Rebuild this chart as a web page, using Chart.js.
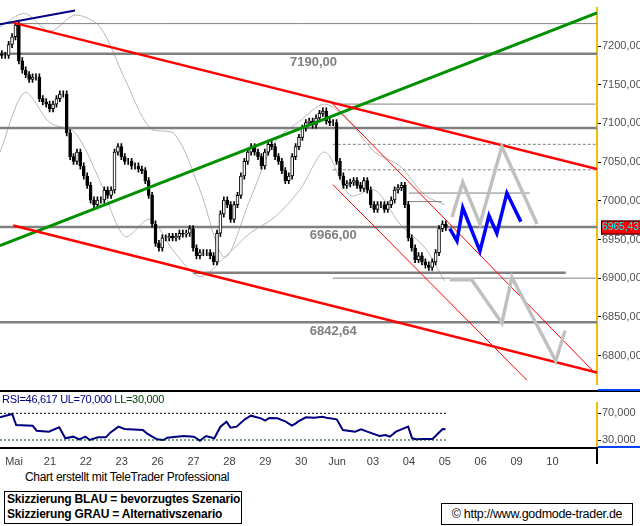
<!DOCTYPE html>
<html><head><meta charset="utf-8">
<script src="https://cdn.jsdelivr.net/npm/chart.js@4.4.0/dist/chart.umd.min.js"></script>
<style>
body{margin:0;background:#fff;width:640px;height:526px;overflow:hidden;position:relative;font-family:"Liberation Sans",Arial,sans-serif}
canvas{position:absolute;left:0}
#c1{top:0}#c2{top:392px}
.t{position:absolute;white-space:nowrap}
</style></head><body>
<canvas id="c1" width="640" height="392"></canvas>
<canvas id="c2" width="640" height="78"></canvas>
<div class="t" style="left:2px;top:393px;font-size:11px;color:#000080;letter-spacing:-0.3px">RSI=46,617 UL=70,000 <span style="color:#004000">LL=30,000</span></div>
<div class="t" style="left:25px;top:470px;font-size:12px;color:#000;letter-spacing:-0.3px">Chart erstellt mit TeleTrader Professional</div>
<div class="t" style="left:4px;top:491px;width:234px;height:31px;border:1px solid #000;font-size:12px;font-weight:bold;line-height:15px;padding-left:2px;letter-spacing:-0.2px">Skizzierung BLAU = bevorzugtes Szenario<br>Skizzierung GRAU = Alternativszenario</div>
<div class="t" style="left:441px;top:503px;width:190px;height:20px;border:1px solid #000;font-size:12.5px;line-height:20px;text-align:center;letter-spacing:-0.3px">© http://www.godmode-trader.de</div>
<script>
const dayLabels=["Mai","21","22","23","26","27","28","29","30","Jun","03","04","05","06","09","10"];
const closes=[7188,7188,7202,7212,7227,7181,7169,7163,7157,7160,7160,7132,7128,7125,7119,7125,7132,7138,7138,7088,7057,7051,7063,7045,7032,7020,7001,6995,7001,7001,7014,7007,7014,7063,7070,7057,7051,7051,7045,7045,7041,7039,7026,7007,6970,6945,6939,6952,6952,6954,6952,6954,6958,6957,6958,6964,6939,6929,6933,6933,6933,6929,6921,6958,6983,7001,6995,6976,6995,7007,7032,7051,7063,7070,7063,7057,7045,7063,7073,7070,7057,7051,7039,7026,7032,7057,7070,7082,7094,7101,7103,7098,7107,7113,7116,7103,7101,7101,7051,7032,7020,7022,7024,7026,7020,7016,7026,7014,6995,6989,6995,6995,6989,6995,7001,7014,7017,7020,6995,6952,6939,6924,6929,6921,6917,6914,6921,6933,6964,6970,6965.43];
const firstOpen=7190, tStart=-0.34, tEnd=12.03;
const bandT=[-0.39,0.30,1.00,1.70,2.39,3.09,3.79,4.48,5.18,5.87,6.57,7.27,7.96,8.66,9.36,10.05,10.75,11.45,12.0];
const bandUpper=[7225,7242,7219,7240,7225,7157,7094,7086,7014,6927,7001,7076,7103,7125,7101,7063,7045,7007,6995];
const bandLower=[7063,7140,7101,7088,7026,6954,6976,6933,6902,6927,6958,6979,7014,7063,7007,7014,6970,6939,6896];
const trendNavy=[[-0.39,7228],[1.70,7246]];
const trendRedUpper=[[0.0,7230],[16.24,7041]];
const trendRedLower=[[-0.02,6968],[16.24,6778]];
const trendGreen=[[-0.39,6942],[16.24,7243]];
const channelUpper=[[8.88,7125],[16.13,6780]];
const channelLower=[[8.88,7021],[14.29,6768]];
// level, from, to
const levelsThick=[[7190,-0.4,16.3],[7094,-0.4,16.3],[6966,-0.4,16.3],[6843,-0.4,16.3],[6907,5.0,15.37]];
const levelsThin=[[7229,-0.4,16.3],[7125,8.88,16.2],[7010,11.0,14.37],[6999,10.97,11.92],[6900,8.88,16.2]];
const levelsDashed=[[7073,8.88,16.2],[7040,8.88,16.2]];
const levelTexts=[["7190,00",7.69,7179],["6966,00",8.24,6955],["6842,64",8.24,6831]];
const blueScenario=[[12.14,6964],[12.34,6948],[12.50,6991],[12.98,6935],[13.23,6981],[13.45,6958],[13.73,7010],[14.12,6973]];
const grayScenario1=[[12.20,6979],[12.50,7024],[12.98,6970],[13.59,7070],[14.57,6970]];
const grayScenario2=[[12.14,6898],[12.75,6898],[13.59,6842],[13.87,6901],[15.09,6793],[15.35,6832]];
const lastPrice="6965,43";
const yTicks=[6800,6850,6900,6950,7000,7050,7100,7150,7200];
const rsiT=[-0.39,-0.05,0.06,0.52,0.63,0.97,1.26,1.43,1.65,1.82,1.99,2.11,2.34,2.56,2.68,2.91,3.08,3.59,3.70,3.98,4.16,4.27,4.72,5.01,5.18,5.35,5.58,5.75,5.92,6.03,6.20,6.43,6.60,6.71,6.88,7.00,7.11,7.34,7.57,7.74,7.85,7.91,8.13,8.36,8.59,8.70,8.99,9.16,9.50,9.67,9.84,10.18,10.35,10.47,10.64,10.98,11.09,11.20,11.43,11.66,11.77,11.94,12.02];
const rsiV=[64,69,52.5,51.5,44,42.5,49,32.5,35,31,35,30,34,34,41,50,46.5,45,40,31,30,33.5,36,35,29,36,32.5,50,57.5,48.5,50,61,66.5,65,62.5,59,63,62.5,57.5,51.5,55,57.5,64,63.5,65,63.5,61,45,42.5,46,42.5,36,37.5,35,42.5,50,32.5,31,31.5,31.5,37.5,46.5,46];
const rsiLevels=[70,30];

const XMIN=-0.39, XMAX=16.24;
const pts=a=>a.map(p=>({x:p[0],y:p[1]}));
const n=closes.length, step=(tEnd-tStart)/(n-1);
const bodies=[], wicks=[], bodyColors=[];
closes.forEach((c,i)=>{const o=i?closes[i-1]:firstOpen;const t=tStart+i*step;
  bodies.push({x:t,y:[o,c]});wicks.push({x:t,y:[Math.min(o,c)-4,Math.max(o,c)+4]});
  bodyColors.push(c>=o?'#ffffff':'#000000');});
const lineDs=(data,color,w,extra)=>Object.assign({type:'line',data,borderColor:color,borderWidth:w,pointRadius:0,fill:false,tension:0},extra||{});
const ds=[];
ds.push(lineDs(bandT.map((t,i)=>({x:t,y:bandUpper[i]})),'#b8b8b8',1,{tension:0.3,order:20}));
ds.push(lineDs(bandT.map((t,i)=>({x:t,y:bandLower[i]})),'#b8b8b8',1,{tension:0.3,order:20}));
levelsThick.forEach(l=>ds.push(lineDs([{x:l[1],y:l[0]},{x:l[2],y:l[0]}],'#808080',2.5,{order:15})));
levelsThin.forEach(l=>ds.push(lineDs([{x:l[1],y:l[0]},{x:l[2],y:l[0]}],'#808080',1,{order:15})));
levelsDashed.forEach(l=>ds.push(lineDs([{x:l[1],y:l[0]},{x:l[2],y:l[0]}],'#808080',1,{order:15,borderDash:[3,2]})));
ds.push({type:'bar',data:wicks,backgroundColor:'#000',barThickness:1,grouped:false,order:11});
ds.push({type:'bar',data:bodies,backgroundColor:bodyColors,borderColor:'#000',borderWidth:1,borderSkipped:false,barThickness:3,grouped:false,order:10});
ds.push(lineDs(pts(channelUpper),'#ff0000',1,{order:5}));
ds.push(lineDs(pts(channelLower),'#ff0000',1,{order:5}));
ds.push(lineDs(pts(trendRedUpper),'#ff0000',2.5,{order:4}));
ds.push(lineDs(pts(trendRedLower),'#ff0000',2.5,{order:4}));
ds.push(lineDs(pts(trendGreen),'#009000',3,{order:4}));
ds.push(lineDs(pts(trendNavy),'#000080',2,{order:4}));
ds.push(lineDs(pts(grayScenario1),'#c0c0c0',3.5,{order:3}));
ds.push(lineDs(pts(grayScenario2),'#c0c0c0',3.5,{order:3}));
ds.push(lineDs(pts(blueScenario),'#0000ff',3.5,{order:2}));

const font='"Liberation Sans", Arial, sans-serif';
const overlay={id:'ov',afterDatasetsDraw(ch){const c=ch.ctx,x=ch.scales.x,y=ch.scales.y;
  c.save();c.font='bold 13px '+font;c.fillStyle='#808080';c.textBaseline='middle';
  levelTexts.forEach(t=>c.fillText(t[0],x.getPixelForValue(t[1]),y.getPixelForValue(t[2])));
  const py=y.getPixelForValue(6965.43);c.fillStyle='#ff0000';c.fillRect(601,py-7,39,14);
  c.strokeStyle='#000';c.lineWidth=1;c.strokeRect(601.5,py-6.5,39,13);
  c.fillStyle='#00ffff';c.font='10.5px '+font;c.fillText(lastPrice,602,py,37);
  c.fillStyle='#000';c.fillRect(0,ch.height-2,640,2);
  c.fillStyle='#0040ff';c.fillRect(598,ch.height-3,42,2);
  c.restore();}};
new Chart(document.getElementById('c1'),{data:{datasets:ds},plugins:[overlay],
 options:{responsive:false,animation:false,devicePixelRatio:1,layout:{padding:0},
  plugins:{legend:{display:false},tooltip:{enabled:false}},
  scales:{x:{type:'linear',display:false,offset:false,min:XMIN,max:XMAX},
   y:{type:'linear',position:'right',min:6762.7,max:7249.7,
    afterFit(s){s.width=43},afterBuildTicks(s){s.ticks=yTicks.map(v=>({value:v}))},
    border:{color:'#f0c000',width:2},
    grid:{drawOnChartArea:false,tickLength:4,color:'#000'},
    ticks:{padding:1,color:'#505050',font:{family:font,size:11},callback:v=>v.toFixed(2).replace('.',',')}}}}});

const ds2=[];
rsiLevels.forEach((l,i)=>ds2.push(lineDs([{x:XMIN,y:l},{x:12.06,y:l}],i?'#004000':'#000',1,{borderDash:[2,2]})));
ds2.push(lineDs(rsiT.map((t,i)=>({x:t,y:rsiV[i]})),'#000080',2));
const ov2={id:'ov2',afterDraw(ch){const c=ch.ctx;c.save();c.fillStyle='#000';
  c.fillRect(0,ch.chartArea.bottom,597,2);c.fillRect(596,ch.chartArea.bottom,2,17);
  c.fillStyle='#0040ff';c.fillRect(598,ch.chartArea.bottom-1,42,2);c.restore();}};
new Chart(document.getElementById('c2'),{data:{datasets:ds2},plugins:[ov2],
 options:{responsive:false,animation:false,devicePixelRatio:1,layout:{padding:{top:11}},
  plugins:{legend:{display:false},tooltip:{enabled:false}},
  scales:{x:{type:'linear',min:XMIN,max:XMAX,offset:false,afterFit(s){s.height=23},
    afterBuildTicks(s){s.ticks=dayLabels.map((d,i)=>({value:i}))},
    border:{display:false},grid:{display:false},
    ticks:{autoSkip:false,maxRotation:0,padding:0,color:'#404040',font:{family:font,size:11},callback:v=>dayLabels[v]}},
   y:{type:'linear',position:'right',min:19.5,max:85.5,afterFit(s){s.width=43},
    afterBuildTicks(s){s.ticks=rsiLevels.map(v=>({value:v}))},
    border:{color:'#f0c000',width:2},grid:{drawOnChartArea:false,tickLength:4,color:'#000'},
    ticks:{padding:1,color:'#505050',font:{family:font,size:11},callback:v=>v.toFixed(3).replace('.',',')}}}}});
</script></body></html>
